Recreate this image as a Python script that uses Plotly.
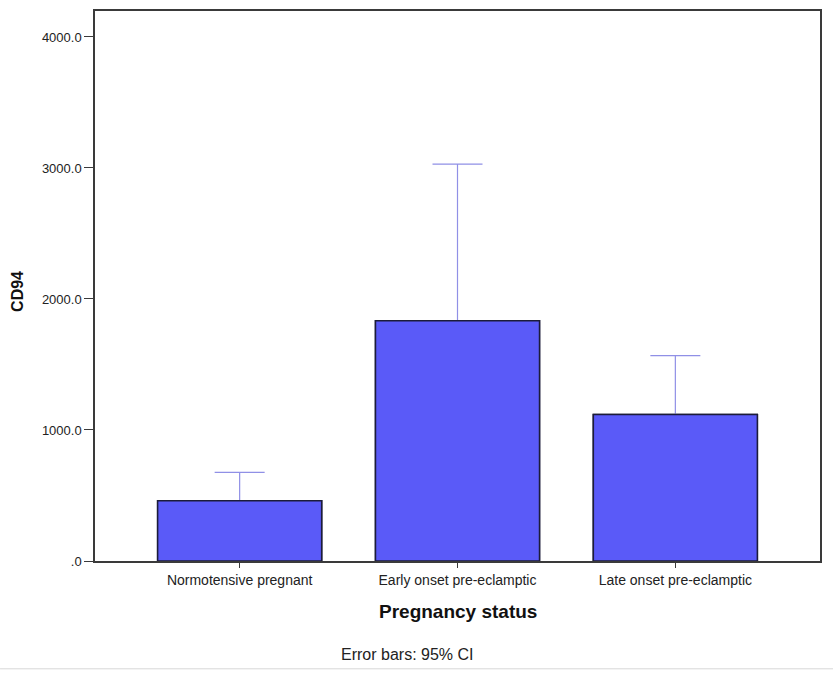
import plotly.graph_objects as go

# Mean CD94 by pregnancy status, with upper 95% CI limit
categories = ["Normotensive pregnant", "Early onset pre-eclamptic", "Late onset pre-eclamptic"]
means = [459, 1833, 1118]
ci_upper = [677, 3029, 1567]

tick_vals = [0, 1000, 2000, 3000, 4000]
tick_text = [".0", "1000.0", "2000.0", "3000.0", "4000.0"]

err = [u - m for u, m in zip(ci_upper, means)]
xpos = list(range(len(categories)))

FONT = "Liberation Sans, Arial, sans-serif"
BAR_FILL = "#5a5af8"
BAR_LINE = "#1c1c3a"
ERR_COLOR = "#9090e6"
AXIS_COLOR = "#3a3a3a"

fig = go.Figure()

# Bars carrying the CI whiskers (lower half is covered by the bar drawn on top)
fig.add_trace(go.Bar(
    x=xpos, y=means, width=0.753,
    marker=dict(color=BAR_FILL, line=dict(color=BAR_LINE, width=1.5)),
    error_y=dict(type="data", symmetric=True, array=err,
                 color=ERR_COLOR, thickness=1.2, width=25),
    showlegend=False, hoverinfo="skip",
))
# Same bars on top so only the upper whisker shows
fig.add_trace(go.Bar(
    x=xpos, y=means, width=0.753,
    marker=dict(color=BAR_FILL, line=dict(color=BAR_LINE, width=1.5)),
    showlegend=False,
))

fig.update_layout(
    width=833, height=673,
    margin=dict(l=95, r=13, t=9, b=112),
    paper_bgcolor="white", plot_bgcolor="white",
    barmode="overlay",
    font=dict(family=FONT, size=12, color="#222"),
    xaxis=dict(
        range=[-0.664, 2.664],
        tickvals=xpos, ticktext=categories,
        ticks="outside", ticklen=5, tickcolor=AXIS_COLOR,
        showline=True, linecolor=AXIS_COLOR, linewidth=1.5, mirror=True,
        showgrid=False, zeroline=False,
        tickfont=dict(family=FONT, size=14, color="#222"),
    ),
    yaxis=dict(
        range=[0, 4198],
        tickvals=tick_vals, ticktext=tick_text,
        ticks="outside", ticklen=9, tickcolor=AXIS_COLOR,
        showline=True, linecolor=AXIS_COLOR, linewidth=1.5, mirror=True,
        showgrid=False, zeroline=False,
        tickfont=dict(family=FONT, size=13, color="#222"),
    ),
    annotations=[
        dict(text="<b>Pregnancy status</b>", xref="paper", yref="paper",
             x=0.5, y=-0.0924, xanchor="center", yanchor="middle",
             showarrow=False, font=dict(family=FONT, size=19, color="#111")),
        dict(text="<b>CD94</b>", xref="paper", yref="paper",
             x=-0.107, y=0.49, xanchor="center", yanchor="middle",
             textangle=-90, showarrow=False,
             font=dict(family=FONT, size=16, color="#111")),
        dict(text="Error bars: 95% CI", xref="paper", yref="paper",
             x=0.43, y=-0.170, xanchor="center", yanchor="middle",
             showarrow=False, font=dict(family=FONT, size=16, color="#222")),
    ],
    shapes=[
        dict(type="line", xref="paper", yref="paper",
             x0=-0.131, x1=1.018, y0=-0.196, y1=-0.196,
             line=dict(color="#d8d8d8", width=1)),
    ],
)

fig.write_html("out.html")
